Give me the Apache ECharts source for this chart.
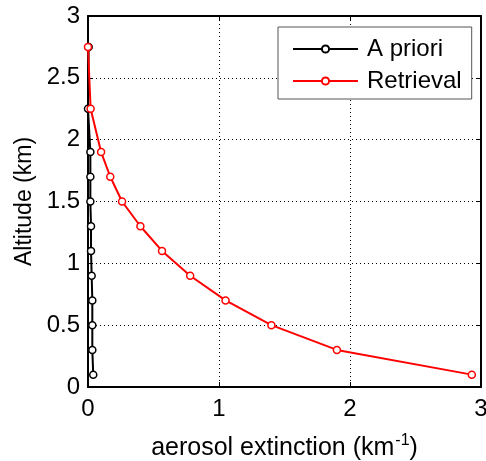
<!DOCTYPE html>
<html>
<head>
<meta charset="utf-8">
<script src="https://cdn.jsdelivr.net/npm/echarts@6/dist/echarts.min.js"></script>
<style>html,body{margin:0;padding:0;background:#fff}#c{width:486px;height:461px}</style>
</head>
<body>
<div id="c"></div>
<script>
const altitudes = [0.1, 0.3, 0.5, 0.7, 0.9, 1.1, 1.3, 1.5, 1.7, 1.9, 2.25, 2.75];
const aprioriExt = [0.04, 0.033, 0.033, 0.033, 0.028, 0.023, 0.023, 0.018, 0.018, 0.018, 0.0, 0.005];
const retrievalExt = [2.93, 1.90, 1.40, 1.05, 0.78, 0.565, 0.40, 0.26, 0.17, 0.10, 0.02, 0.0];
const seriesNames = ['A priori', 'Retrieval'];
const xTicks = [0, 1, 2, 3];
const yTicks = [0, 0.5, 1, 1.5, 2, 2.5, 3];

const font = 'Liberation Sans, Arial, sans-serif';
const pairs = (xs) => xs.map((x, i) => [x, altitudes[i]]);

const chart = echarts.init(document.getElementById('c'), null, {renderer: 'canvas'});
const baseX = {
  type: 'value', min: xTicks[0], max: xTicks[xTicks.length - 1], interval: 1,
  axisLine: {show: true, onZero: false, lineStyle: {color: '#000', width: 2}},
  axisTick: {show: true, inside: true, length: 5, lineStyle: {color: '#000', width: 1}}
};
const baseY = {
  type: 'value', min: yTicks[0], max: yTicks[yTicks.length - 1], interval: 0.5,
  axisLine: {show: true, onZero: false, lineStyle: {color: '#000', width: 2}},
  axisTick: {show: true, inside: true, length: 5, lineStyle: {color: '#000', width: 1}}
};
chart.setOption({
  animation: false,
  backgroundColor: '#fff',
  grid: {left: 88, right: 5, top: 16, bottom: 74, containLabel: false, outerBoundsMode: 'none'},
  xAxis: [
    Object.assign({}, baseX, {
      position: 'bottom',
      name: '{n|aerosol extinction (km}{s|-1}{n|)}',
      nameLocation: 'middle', nameGap: 46,
      nameTextStyle: {rich: {n: {fontFamily: font, fontSize: 25, color: '#000', verticalAlign: 'bottom', lineHeight: 28}, s: {fontFamily: font, fontSize: 16, color: '#000', verticalAlign: 'top', lineHeight: 28, padding: [0, 0, 13, 1]}}},
      axisLabel: {show: true, color: '#000', fontFamily: font, fontSize: 24, margin: 10},
      splitLine: {show: true, lineStyle: {color: '#000', width: 1, type: [1, 3]}}
    }),
    Object.assign({}, baseX, {position: 'top', axisLabel: {show: false}, splitLine: {show: false}})
  ],
  yAxis: [
    Object.assign({}, baseY, {
      position: 'left',
      name: 'Altitude (km)', nameLocation: 'middle', nameGap: 51, nameRotate: 90,
      nameTextStyle: {fontFamily: font, fontSize: 23, color: '#000'},
      axisLabel: {show: true, color: '#000', fontFamily: font, fontSize: 24, margin: 8},
      splitLine: {show: true, lineStyle: {color: '#000', width: 1, type: [1, 3]}}
    }),
    Object.assign({}, baseY, {position: 'right', axisLabel: {show: false}, splitLine: {show: false}})
  ],
  legend: {
    show: true, orient: 'vertical', left: 278, top: 27,
    data: seriesNames,
    backgroundColor: '#fff', borderColor: '#555', borderWidth: 1,
    padding: [10, 10, 6, 14],
    itemWidth: 65, itemHeight: 9, itemGap: 8,
    textStyle: {fontFamily: font, fontSize: 24, color: '#000', lineHeight: 24, padding: [0, 0, 0, 4]}
  },
  series: [
    {
      name: seriesNames[0], type: 'line', data: pairs(aprioriExt),
      xAxisIndex: 0, yAxisIndex: 0,
      symbol: 'circle', symbolSize: 7, showAllSymbol: true,
      lineStyle: {color: '#000', width: 2},
      itemStyle: {color: '#fff', borderColor: '#000', borderWidth: 1.5},
      z: 3
    },
    {
      name: seriesNames[1], type: 'line', data: pairs(retrievalExt),
      xAxisIndex: 0, yAxisIndex: 0,
      symbol: 'circle', symbolSize: 7, showAllSymbol: true,
      lineStyle: {color: '#f00', width: 2},
      itemStyle: {color: '#fff', borderColor: '#f00', borderWidth: 1.5},
      z: 4
    }
  ]
});
</script>
</body>
</html>
